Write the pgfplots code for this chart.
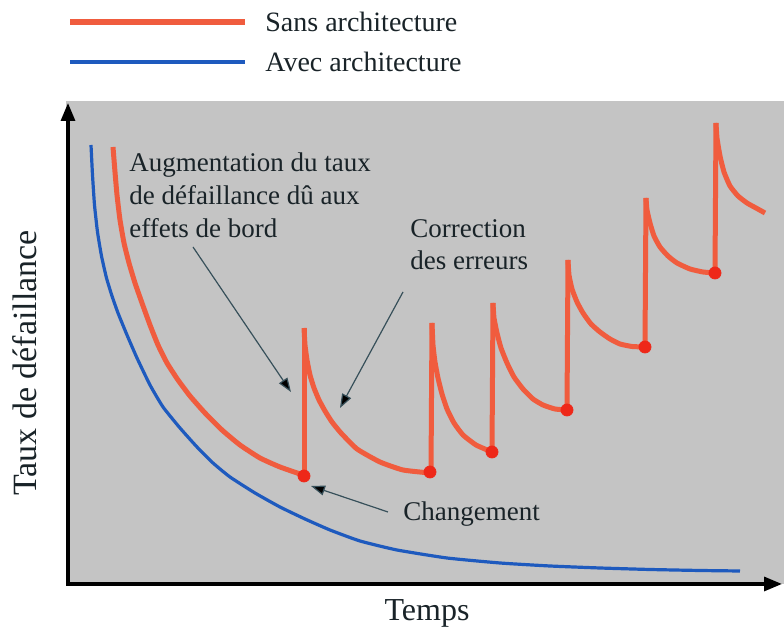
\documentclass[border=0pt]{standalone}
\usepackage{pgfplots}
\pgfplotsset{compat=1.18}
\usepackage{fontspec}
\setmainfont{Liberation Serif}
\usetikzlibrary{arrows.meta}
\definecolor{bgg}{RGB}{196,196,196}
\definecolor{redl}{RGB}{240,92,62}
\definecolor{redd}{RGB}{238,40,25}
\definecolor{bluel}{RGB}{30,90,190}
\definecolor{arr}{RGB}{55,80,90}
\definecolor{txt}{RGB}{25,35,40}
\begin{document}
\begin{tikzpicture}
\begin{axis}[
  scale only axis, width=392pt, height=317.5pt,
  xmin=0, xmax=784, ymin=0, ymax=635, y dir=reverse,
  hide axis, clip=false,
]
% background and axes
\fill[bgg] (axis cs:66,101) rectangle (axis cs:784,584);
\draw[line width=1.6pt, -{Triangle[length=9pt,width=7pt]}] (axis cs:68,586) -- (axis cs:68,103);
\draw[line width=1.6pt, -{Triangle[length=9pt,width=7pt]}] (axis cs:67,584) -- (axis cs:782,584);
% legend
\draw[redl, line width=3.2pt] (axis cs:70,22) -- (axis cs:245,22);
\draw[bluel, line width=2.2pt] (axis cs:70,62) -- (axis cs:245,62);
\node[anchor=base west, inner sep=0pt, font=\fontsize{14}{16}\selectfont, text=txt] at (axis cs:265,32) {Sans architecture};
\node[anchor=base west, inner sep=0pt, font=\fontsize{14}{16}\selectfont, text=txt] at (axis cs:265,72) {Avec architecture};
% blue curve
\addplot[bluel, line width=1.6pt, smooth, tension=0.3] coordinates {
 (91,145) (92.5,175) (94.5,205) (97.5,232) (101.5,256) (106.5,278) (112,296)
 (118,313) (127,335) (137,358) (150,385) (163,407) (180,428) (197,447)
 (213,463) (230,477) (255,493) (280,507) (305,519) (330,530) (360,541)
 (397,550) (447,558) (500,563) (550,566) (600,568) (650,569.5) (700,570.5) (740,571)};
% red curve segments
\addplot[redl, line width=2.5pt, smooth, tension=0.3] coordinates {
 (113,147) (115,172) (117,195) (120,220) (124,243) (129,263) (135,283)
 (142,303) (150,325) (158,345) (167,363) (178,380) (190,396) (205,413)
 (222,430) (240,445) (260,458) (280,467) (303,475)};
\addplot[redl, line width=2.5pt] coordinates {(304,476) (304,328)};
\addplot[redl, line width=2.5pt, smooth, tension=0.3] coordinates {
 (304,328) (305,345) (307,360) (310,375) (314,388) (319,400) (325,411)
 (332,422) (341,433) (357,449) (380,462) (403,470) (430,473)};
\addplot[redl, line width=2.5pt] coordinates {(431,473) (432,323)};
\addplot[redl, line width=2.5pt, smooth, tension=0.3] coordinates {
 (432,323) (433,345) (435,362) (438,378) (442,394) (447,409) (454,423)
 (463,435) (476,445) (492,452)};
\addplot[redl, line width=2.5pt] coordinates {(492,452) (493,303)};
\addplot[redl, line width=2.5pt, smooth, tension=0.3] coordinates {
 (493,303) (494,318) (497,333) (501,348) (507,363) (514,377) (523,389)
 (533,399) (543,405) (555,409) (567,410)};
\addplot[redl, line width=2.5pt] coordinates {(567,410) (568,260)};
\addplot[redl, line width=2.5pt, smooth, tension=0.3] coordinates {
 (568,260) (569,275) (572,289) (577,302) (583,313) (591,324) (600,332)
 (610,339) (620,344) (632,346.5) (645,347)};
\addplot[redl, line width=2.5pt] coordinates {(645,347) (646,198)};
\addplot[redl, line width=2.5pt, smooth, tension=0.3] coordinates {
 (646,198) (647,210) (650,223) (654,236) (660,247) (668,256) (677,263)
 (690,269) (703,272) (715,273)};
\addplot[redl, line width=2.5pt] coordinates {(715,273) (716,123)};
\addplot[redl, line width=2.5pt, smooth, tension=0.3] coordinates {
 (716,123) (717,138) (720,156) (724,172) (730,186) (738,196) (747,203)
 (756,208) (765,213)};
% change points
\addplot[only marks, mark=*, mark size=3pt, redd, mark options={draw=redd, fill=redd}] coordinates {
 (304,476) (430,472) (492,452) (567,410) (645,347) (715,273)};
% annotations (base anchor = baseline of last line)
\node[anchor=base west, inner sep=0pt, align=left, font=\fontsize{13.5}{16.5}\selectfont, text=txt] at (axis cs:129,238)
  {Augmentation du taux\\de défaillance dû aux\\effets de bord};
\node[anchor=base west, inner sep=0pt, align=left, font=\fontsize{13.5}{16}\selectfont, text=txt] at (axis cs:410,270)
  {Correction\\des erreurs};
\node[anchor=base west, inner sep=0pt, font=\fontsize{13.5}{16}\selectfont, text=txt] at (axis cs:403,521) {Changement};
\draw[arr, line width=0.6pt, -{Triangle[length=7pt,width=5pt,fill=black]}] (axis cs:193,247) -- (axis cs:291,392);
\draw[arr, line width=0.6pt, -{Triangle[length=7pt,width=5pt,fill=black]}] (axis cs:403,292) -- (axis cs:340,408);
\draw[arr, line width=0.6pt, -{Triangle[length=7pt,width=5pt,fill=black]}] (axis cs:388,512) -- (axis cs:311,486);
% axis labels
\node[anchor=base, inner sep=0pt, font=\fontsize{16}{18}\selectfont, text=txt] at (axis cs:427,621) {Temps};
\node[rotate=90, anchor=center, inner sep=0pt, font=\fontsize{17}{19}\selectfont, text=txt] at (axis cs:25,363) {Taux de défaillance};
\end{axis}
\pgfresetboundingbox
\path (current axis.south west) rectangle (current axis.north east);
\end{tikzpicture}
\end{document}
